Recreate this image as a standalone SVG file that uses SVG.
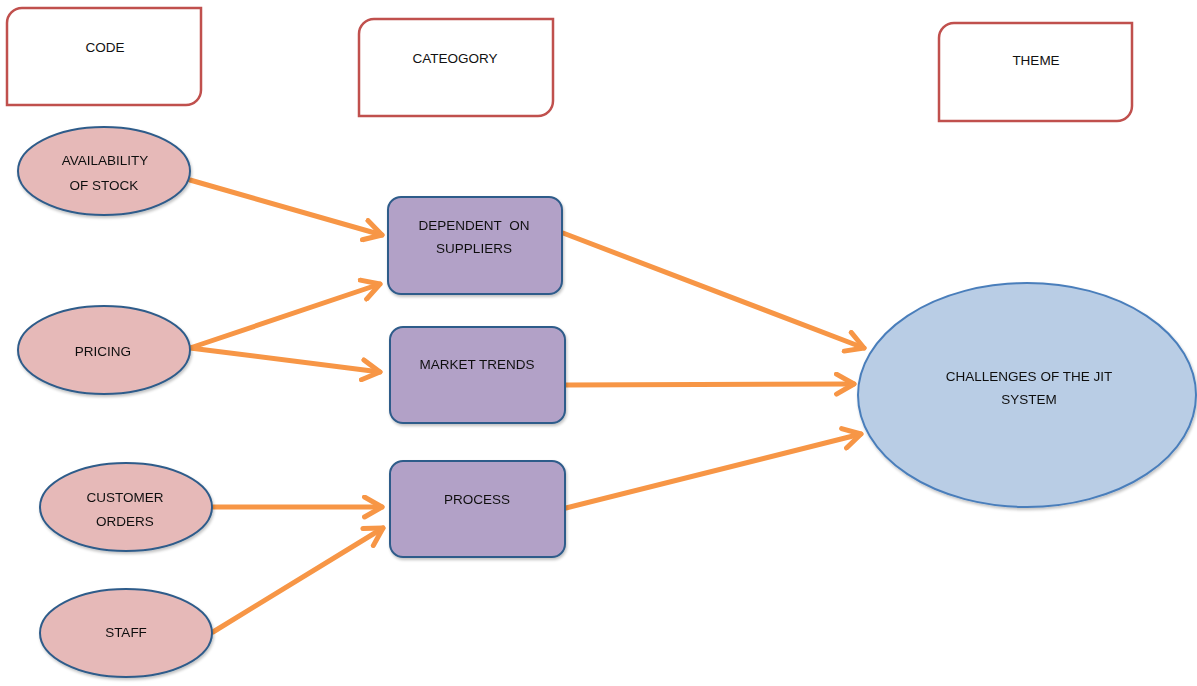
<svg xmlns="http://www.w3.org/2000/svg" width="1197" height="686" viewBox="0 0 1197 686">
  <style>
    .hdr { fill: #ffffff; stroke: #c0504d; stroke-width: 2.5; }
    .code { fill: #e6b9b8; stroke: #2f5c8a; stroke-width: 2; }
    .cat { fill: #b2a1c7; stroke: #2f5c8a; stroke-width: 2; }
    .theme { fill: #b9cde5; stroke: #4a7ebb; stroke-width: 2; }
    text { font-family: "Liberation Sans", Arial, sans-serif; font-size: 13.5px; fill: #111111; text-anchor: middle; white-space: pre; }
    .link { fill: none; stroke: #f79646; stroke-width: 5; stroke-linecap: round; marker-end: url(#chev); }
  </style>
  <defs>
    <marker id="chev" viewBox="0 0 10 10" refX="8" refY="5" markerWidth="5" markerHeight="5" markerUnits="strokeWidth" orient="auto">
      <path d="M1,1 L8,5 L1,9" fill="none" stroke="#f79646" stroke-width="2" stroke-linecap="round" stroke-linejoin="round"/>
    </marker>
    <filter id="sh" x="-10%" y="-10%" width="130%" height="130%">
      <feGaussianBlur in="SourceAlpha" stdDeviation="1.5"/>
      <feOffset dx="1" dy="2" result="b"/>
      <feComponentTransfer><feFuncA type="linear" slope="0.25"/></feComponentTransfer>
      <feMerge><feMergeNode/><feMergeNode in="SourceGraphic"/></feMerge>
    </filter>
  </defs>

  <!-- column headers: diagonal rounded corners -->
  <g id="hdr-code">
    <path class="hdr" d="M22,8 H201 V90 A15,15 0 0 1 186,105 H7 V23 A15,15 0 0 1 22,8 Z"/>
    <text x="105" y="52">CODE</text>
  </g>
  <g id="hdr-category">
    <path class="hdr" d="M374,19 H553 V101 A15,15 0 0 1 538,116 H359 V34 A15,15 0 0 1 374,19 Z"/>
    <text x="455" y="63">CATEOGORY</text>
  </g>
  <g id="hdr-theme">
    <path class="hdr" d="M954,23 H1132 V106 A15,15 0 0 1 1117,121 H939 V38 A15,15 0 0 1 954,23 Z"/>
    <text x="1036" y="65">THEME</text>
  </g>

  <!-- connectors -->
  <g id="connectors">
    <line class="link" x1="190" y1="180" x2="382" y2="235"/>
    <line class="link" x1="190" y1="348" x2="380" y2="284"/>
    <line class="link" x1="190" y1="348" x2="380" y2="372"/>
    <line class="link" x1="213" y1="507" x2="382" y2="507"/>
    <line class="link" x1="213" y1="632" x2="383" y2="528"/>
    <line class="link" x1="563" y1="233" x2="864" y2="348"/>
    <line class="link" x1="566" y1="385" x2="854" y2="384"/>
    <line class="link" x1="566" y1="508" x2="861" y2="434"/>
  </g>

  <!-- codes -->
  <g id="code-availability" filter="url(#sh)">
    <ellipse class="code" cx="104" cy="171" rx="86" ry="44"/>
    <text x="105" y="165">AVAILABILITY</text>
    <text x="104" y="190">OF STOCK</text>
  </g>
  <g id="code-pricing" filter="url(#sh)">
    <ellipse class="code" cx="104" cy="350" rx="86" ry="44"/>
    <text x="103" y="356">PRICING</text>
  </g>
  <g id="code-customer-orders" filter="url(#sh)">
    <ellipse class="code" cx="126" cy="507" rx="86" ry="44"/>
    <text x="125" y="502">CUSTOMER</text>
    <text x="125" y="526">ORDERS</text>
  </g>
  <g id="code-staff" filter="url(#sh)">
    <ellipse class="code" cx="126" cy="633" rx="86" ry="44"/>
    <text x="126" y="637">STAFF</text>
  </g>

  <!-- categories -->
  <g id="cat-dependent" filter="url(#sh)">
    <rect class="cat" x="388" y="197" width="174" height="97" rx="13"/>
    <text x="474" y="230" xml:space="preserve">DEPENDENT  ON</text>
    <text x="474" y="253">SUPPLIERS</text>
  </g>
  <g id="cat-market" filter="url(#sh)">
    <rect class="cat" x="390" y="327" width="175" height="96" rx="13"/>
    <text x="477" y="369">MARKET TRENDS</text>
  </g>
  <g id="cat-process" filter="url(#sh)">
    <rect class="cat" x="390" y="461" width="175" height="96" rx="13"/>
    <text x="477" y="504">PROCESS</text>
  </g>

  <!-- theme -->
  <g id="theme-jit" filter="url(#sh)">
    <ellipse class="theme" cx="1027" cy="395" rx="169" ry="112"/>
    <text x="1029" y="381">CHALLENGES OF THE JIT</text>
    <text x="1029" y="404">SYSTEM</text>
  </g>
</svg>
